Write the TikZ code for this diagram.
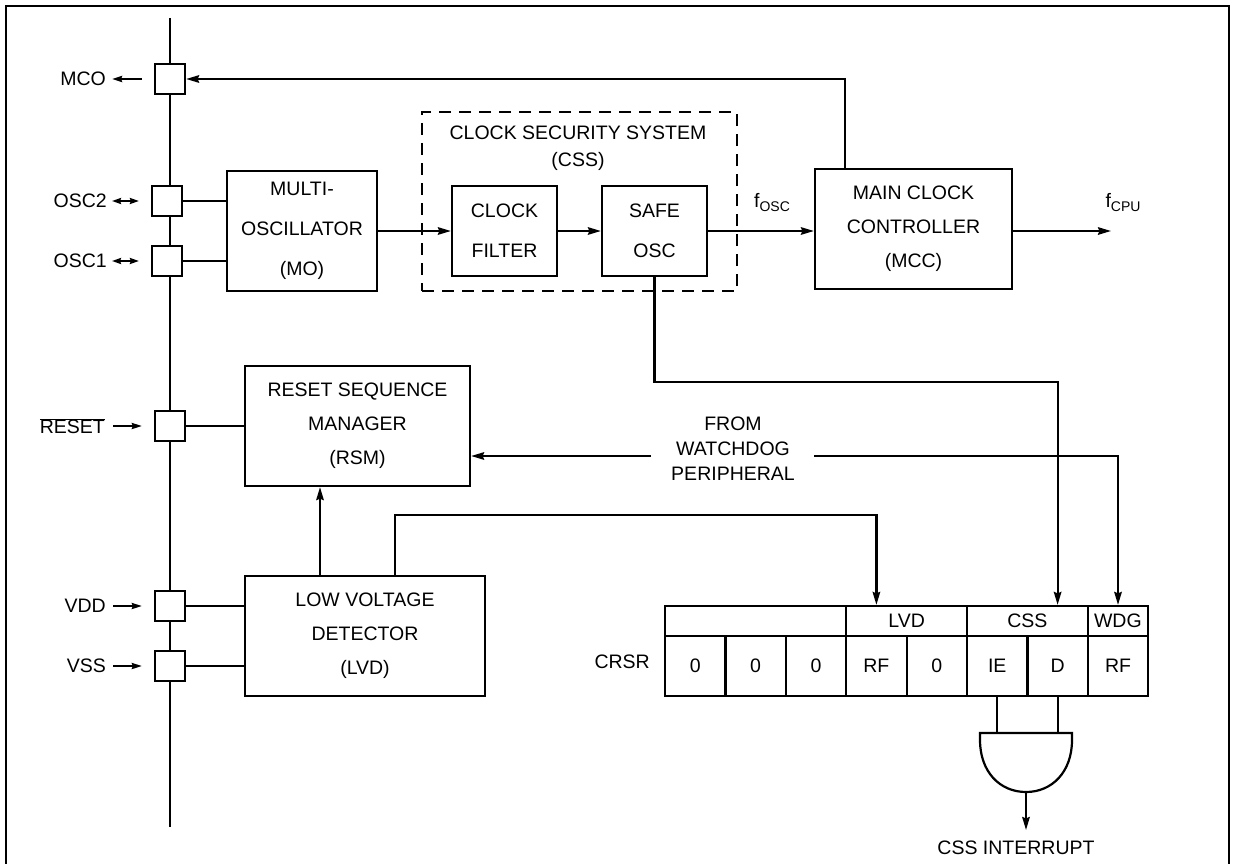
\documentclass[tikz,border=0pt]{standalone}
\usepackage{fontspec}
\setmainfont{Liberation Sans}
\usetikzlibrary{arrows.meta,positioning,calc}
\newcommand{\blkfont}{\fontsize{19.5}{34}\selectfont}
\newcommand{\subtxt}[1]{\raisebox{-4pt}{\fontsize{14}{14}\selectfont #1}}
\tikzset{
    every picture/.style={line join=miter},
    wire/.style={line width=2.2pt},
    sigarrow/.style={wire,-{Stealth[length=13pt,width=7.5pt,inset=1.5pt]}},
    padarrow/.style={wire,-{Stealth[length=10pt,width=6pt,inset=1pt]}},
    duplex/.style={wire,{Stealth[length=9pt,width=6pt,inset=1pt]}-{Stealth[length=9pt,width=6pt,inset=1pt]}},
    blockbox/.style={draw,line width=2.2pt,align=center,inner sep=0pt,font=\blkfont},
    padbox/.style={draw,fill=white,line width=2.2pt,minimum size=30pt,inner sep=0pt},
    bitcell/.style={draw,line width=2.2pt,minimum width=60.4pt,minimum height=60pt,
      inner sep=0pt,font=\blkfont},
    grpcell/.style={draw,line width=2.2pt,minimum height=30pt,inner sep=0pt,font=\blkfont},
    pinlabel/.style={anchor=east,inner sep=0pt,text depth=0pt,font=\blkfont},
    plainlabel/.style={inner sep=0pt,align=center,font=\blkfont}
}
\begin{document}
\begin{tikzpicture}[x=1pt,y=-1pt]
  \useasboundingbox (0,0) rectangle (1236,864);
  % frame and pin bus
  \draw[wire] (6,864) -- (6,6) -- (1229,6) -- (1229,864);
  \draw[wire] (170,18) -- (170,827);

  % pads on the bus
  \foreach \name/\px/\py in {mco/170/79,osctwo/167/201,oscone/167/261,rst/170/426,vdd/170/606,vss/170/666}
    \node[padbox] (\name) at (\px,\py) {};

  % pin names
  \node[pinlabel] (mcolbl) at (106,79) {MCO};
  \node[pinlabel] (osctwolbl) at (107,201) {OSC2};
  \node[pinlabel] (osconelbl) at (107,261) {OSC1};
  \node[pinlabel] (rstlbl) at (105,426) {$\overline{\hbox{\blkfont RESET}}$};
  \node[pinlabel] (vddlbl) at (106,606) {VDD};
  \node[pinlabel] (vsslbl) at (106,666) {VSS};
  \draw[padarrow] ([xshift=-12pt]mco.west) -- ([xshift=6pt]mcolbl.east);
  \draw[duplex] ([xshift=5pt]osctwolbl.east) -- ([xshift=-12pt]osctwo.west);
  \draw[duplex] ([xshift=5pt]osconelbl.east) -- ([xshift=-12pt]oscone.west);
  \draw[padarrow] ([xshift=8pt]rstlbl.east) -- ([xshift=-12pt]rst.west);
  \draw[padarrow] ([xshift=7pt]vddlbl.east) -- ([xshift=-12pt]vdd.west);
  \draw[padarrow] ([xshift=7pt]vsslbl.east) -- ([xshift=-12pt]vss.west);

  % blocks
  \node[blockbox,minimum width=150pt,minimum height=120pt] (mo) at (302,231)
    {MULTI-\\[6pt]OSCILLATOR\\[6pt](MO)};
  \node[draw,wire,dash pattern=on 12pt off 8pt,minimum width=315pt,minimum height=179pt]
    (cssgrp) at (579.5,201.5) {};
  \node[plainlabel,font=\fontsize{19.5}{27}\selectfont] (csstitle) at (578,148.5)
    {CLOCK SECURITY SYSTEM\\(CSS)};
  \node[blockbox,minimum width=105pt,minimum height=90pt] (cf) at (504.5,231) {CLOCK\\[6pt]FILTER};
  \node[blockbox,minimum width=105pt,minimum height=90pt] (so) at (654.5,231) {SAFE\\[6pt]OSC};
  \node[blockbox,minimum width=197pt,minimum height=120pt] (mcc) at (913.5,229)
    {MAIN CLOCK\\CONTROLLER\\(MCC)};
  \node[blockbox,minimum width=225pt,minimum height=120pt] (rsm) at (357.5,426)
    {RESET SEQUENCE\\MANAGER\\(RSM)};
  \node[blockbox,minimum width=240pt,minimum height=120pt] (lvd) at (365,636)
    {LOW VOLTAGE\\DETECTOR\\(LVD)};

  % pad connections
  \draw[wire] (osctwo.east) -- (osctwo.east -| mo.west);
  \draw[wire] (oscone.east) -- (oscone.east -| mo.west);
  \draw[wire] (rst.east) -- (rsm.west);
  \draw[wire] (vdd.east) -- (vdd.east -| lvd.west);
  \draw[wire] (vss.east) -- (vss.east -| lvd.west);

  % clock path
  \draw[sigarrow] (mo.east) -- (mo.east -| cf.west);
  \draw[sigarrow] (cf.east) -- (so.west);
  \draw[sigarrow] (so.east) -- (so.east -| mcc.west);
  \node[plainlabel] (fosc) at (772,203) {f\subtxt{OSC}};
  \coordinate (cpuout) at (1111,231);
  \draw[sigarrow] (mcc.east |- cpuout) -- (cpuout);
  \node[plainlabel] (fcpu) at (1123,203) {f\subtxt{CPU}};
  \draw[sigarrow] ([xshift=-68.5pt]mcc.north) |- (mco.east);

  % CRSR register
  \foreach \k/\bit in {1/0,2/0,3/0,4/RF,5/0,6/IE,7/D,8/RF}
    \node[bitcell] (rb\k) at ({665+(\k-0.5)*60.4},666) {\bit};
  \node[grpcell,minimum width=181.2pt] (rgfree) at (755.6,621) {};
  \node[grpcell,minimum width=120.8pt] (rglvd) at (906.6,621) {LVD};
  \node[grpcell,minimum width=120.8pt] (rgcss) at (1027.4,621) {CSS};
  \node[grpcell,minimum width=60.4pt] (rgwdg) at (1117.9,621) {WDG};
  \node[pinlabel] (crsr) at (650,662) {CRSR};

  % flag lines
  \draw[sigarrow] (so.south) -- ++(0,105) -| (rb7 |- rgcss.north);
  \node[plainlabel,font=\fontsize{19.5}{25}\selectfont] (wdg) at (733,449)
    {FROM\\WATCHDOG\\PERIPHERAL};
  \coordinate (wdgleft) at (651,456);
  \coordinate (wdgright) at (814,456);
  \draw[sigarrow] (wdgleft) -- (wdgleft -| rsm.east);
  \draw[sigarrow] (wdgright) -| (rb8 |- rgwdg.north);
  \draw[sigarrow] ([xshift=-45pt]lvd.north) -- ([xshift=-45pt]lvd.north |- rsm.south);
  \draw[sigarrow] ([xshift=30pt]lvd.north) -- ++(0,-60) -| (rb4 |- rglvd.north);

  % interrupt gate
  \coordinate (andtop) at (1026,733);
  \draw[wire] (rb6.south) -- (rb6.south |- andtop);
  \draw[wire] (rb7.south) -- (rb7.south |- andtop);
  \draw[wire] (980,733) -- (1072,733) -- (1072,740) .. controls (1072,772) and (1052,792) .. (1026,792)
    .. controls (1000,792) and (980,772) .. (980,740) -- cycle;
  \coordinate (andout) at (1026,792);
  \draw[sigarrow] (andout) -- ++(0,38);
  \node[plainlabel] (cssint) at (1016,848) {CSS INTERRUPT};
\end{tikzpicture}
\end{document}
